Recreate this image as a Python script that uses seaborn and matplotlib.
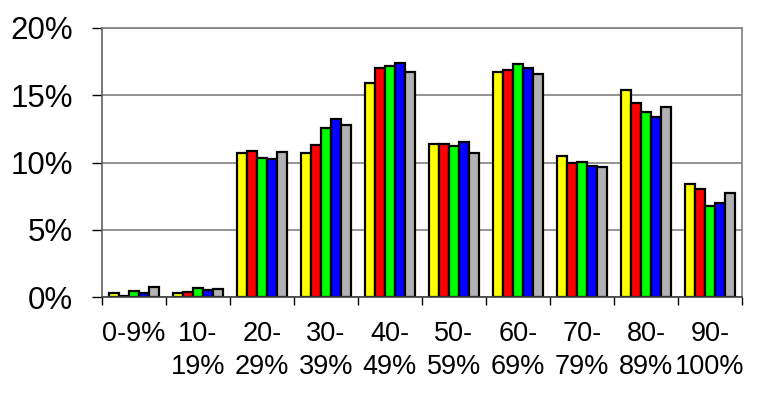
import numpy as np
import pandas as pd
import matplotlib
matplotlib.use("Agg")
import matplotlib.pyplot as plt
import seaborn as sns

# Score bands and the five series (values in %)
bands = ["0-9%", "10-\n19%", "20-\n29%", "30-\n39%", "40-\n49%",
         "50-\n59%", "60-\n69%", "70-\n79%", "80-\n89%", "90-\n100%"]
series_1 = [0.30, 0.32, 10.67, 10.70, 15.90, 11.40, 16.70, 10.50, 15.40, 8.40]
series_2 = [0.10, 0.37, 10.84, 11.30, 17.00, 11.40, 16.90, 9.95, 14.40, 8.00]
series_3 = [0.43, 0.65, 10.35, 12.60, 17.20, 11.20, 17.30, 10.05, 13.75, 6.74]
series_4 = [0.32, 0.52, 10.28, 13.20, 17.40, 11.50, 17.00, 9.75, 13.40, 6.96]
series_5 = [0.72, 0.62, 10.75, 12.80, 16.70, 10.70, 16.60, 9.70, 14.15, 7.76]
series_names = ["S1", "S2", "S3", "S4", "S5"]
colors = ["#ffff00", "#ff0000", "#00ff00", "#0000ff", "#b2b2b2"]

rows = []
for name, vals in zip(series_names, [series_1, series_2, series_3, series_4, series_5]):
    for b, v in zip(bands, vals):
        rows.append({"band": b, "series": name, "value": v})
df = pd.DataFrame(rows)

sns.set_style("white")
plt.rcParams["font.family"] = ["Liberation Sans", "DejaVu Sans"]

fig = plt.figure(figsize=(7.61, 3.93), dpi=100)
ax = fig.add_axes([0.134, 0.244, 0.841, 0.685])

sns.barplot(data=df, x="band", y="value", hue="series", order=bands,
            hue_order=series_names, palette=colors, width=0.78,
            edgecolor="black", linewidth=1.6, saturation=1, ax=ax, legend=False)

ax.set_xlim(-0.5, len(bands) - 0.5)
ax.set_ylim(0, 20)
ax.set_yticks([0, 5, 10, 15, 20])
ax.set_yticklabels(["0%", "5%", "10%", "15%", "20%"], fontsize=22.5, color="black")
ax.yaxis.grid(True, color="#808080", linewidth=1.2)
ax.set_axisbelow(True)

# labels at category centres, tick marks at the boundaries
ax.set_xticks(np.arange(len(bands)))
ax.set_xticklabels(bands, fontsize=19.5, linespacing=1.35, va="top", color="black")
ax.set_xticks(np.arange(len(bands) + 1) - 0.5, minor=True)
ax.tick_params(axis="x", which="major", length=0, pad=17)
ax.tick_params(axis="x", which="minor", length=6, width=1, color="black",
               direction="out", bottom=True)
ax.tick_params(axis="y", length=7, width=1, color="black", direction="out",
               left=True, pad=14)

ax.set_xlabel("")
ax.set_ylabel("")
for side in ["top", "right"]:
    ax.spines[side].set_color("#808080")
    ax.spines[side].set_linewidth(1.2)
ax.spines["left"].set_color("#606060")
ax.spines["left"].set_linewidth(1.2)
ax.spines["bottom"].set_color("#404040")
ax.spines["bottom"].set_linewidth(1.2)

fig.savefig("out.png", dpi=100)
